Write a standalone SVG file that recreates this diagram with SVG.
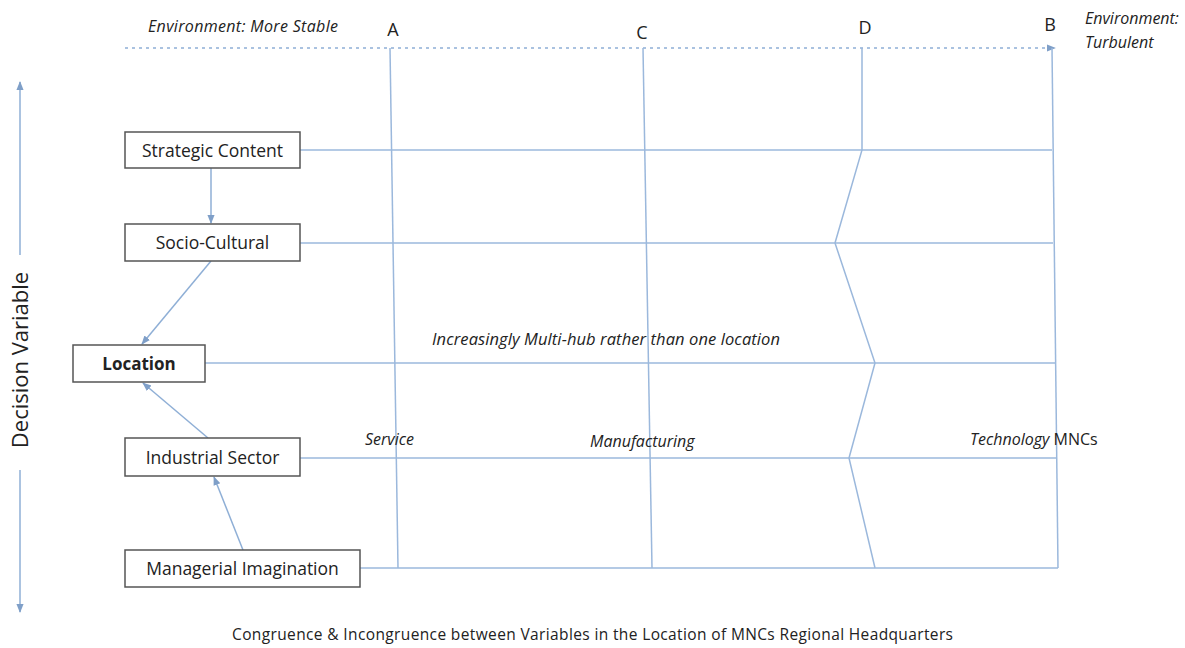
<svg xmlns="http://www.w3.org/2000/svg" width="1185" height="648" viewBox="0 0 1185 648">
<style>
.t{font-family:"Open Sans","Liberation Sans",sans-serif;fill:#222}
.i{font-style:italic}
.box{fill:#fff;stroke:#555;stroke-width:1.5}
.ln{stroke:#9bb8dc;stroke-width:1.5;fill:none}
.ar{stroke:#8fafd6;stroke-width:1.5;fill:none}
</style>
<defs>
<marker id="ah" viewBox="0 0 10 10" refX="9" refY="5" markerWidth="6" markerHeight="6" orient="auto"><path d="M0,1 L10,5 L0,9 z" fill="#7f9fc8"/></marker>
</defs>
<rect width="1185" height="648" fill="#fff"/>
<g id="connectors">
<line class="ar" x1="125" y1="48" x2="1055" y2="48" stroke-dasharray="3,4" marker-end="url(#ah)"/>
<line class="ln" x1="390" y1="48" x2="398" y2="568"/>
<line class="ln" x1="643" y1="48" x2="652" y2="568"/>
<polyline class="ln" points="862,48 862,150 835,243 875,363 849,458 875,568"/>
<line class="ln" x1="1052" y1="48" x2="1058" y2="568"/>
<line class="ln" x1="300" y1="150" x2="1052" y2="150"/>
<line class="ln" x1="300" y1="243" x2="1053" y2="243"/>
<line class="ln" x1="205" y1="363" x2="1055" y2="363"/>
<line class="ln" x1="300" y1="458" x2="1056" y2="458"/>
<line class="ln" x1="360" y1="568" x2="1058" y2="568"/>
<line class="ar" x1="211" y1="168" x2="211" y2="223" marker-end="url(#ah)"/>
<line class="ar" x1="211" y1="261" x2="142" y2="344" marker-end="url(#ah)"/>
<line class="ar" x1="208" y1="438" x2="143" y2="383" marker-end="url(#ah)"/>
<line class="ar" x1="243" y1="550" x2="214" y2="477" marker-end="url(#ah)"/>
<line class="ar" x1="20" y1="255" x2="20" y2="82" marker-end="url(#ah)"/>
<line class="ar" x1="20" y1="470" x2="20" y2="612" marker-end="url(#ah)"/>
</g>
<g id="strategic-content"><rect class="box" x="125" y="132" width="175" height="36"/><text class="t" x="212.5" y="157" font-size="17.5" text-anchor="middle">Strategic Content</text></g>
<g id="socio-cultural"><rect class="box" x="125" y="224" width="175" height="37"/><text class="t" x="212.5" y="249" font-size="17.5" text-anchor="middle">Socio-Cultural</text></g>
<g id="location"><rect class="box" x="73" y="345" width="132" height="37"/><text class="t" x="139" y="370" font-size="17" font-weight="bold" text-anchor="middle">Location</text></g>
<g id="industrial-sector"><rect class="box" x="125" y="438" width="175" height="38"/><text class="t" x="212.5" y="464" font-size="17.5" text-anchor="middle">Industrial Sector</text></g>
<g id="managerial-imagination"><rect class="box" x="125" y="550" width="235" height="37"/><text class="t" x="242.5" y="575" font-size="17.5" text-anchor="middle">Managerial Imagination</text></g>
<g id="labels">
<text class="t i" x="148" y="32" font-size="16" textLength="190">Environment: More Stable</text>
<text class="t" x="393" y="36" font-size="18" text-anchor="middle">A</text>
<text class="t" x="642" y="39" font-size="18" text-anchor="middle">C</text>
<text class="t" x="865" y="34" font-size="18" text-anchor="middle">D</text>
<text class="t" x="1050" y="31" font-size="18" text-anchor="middle">B</text>
<text class="t i" x="1085" y="24" font-size="16">Environment:</text>
<text class="t i" x="1085" y="48" font-size="16">Turbulent</text>
<text class="t i" x="432" y="345" font-size="16.5" textLength="348">Increasingly Multi-hub rather than one location</text>
<text class="t i" x="365" y="445" font-size="16">Service</text>
<text class="t i" x="590" y="447" font-size="16">Manufacturing</text>
<text class="t" x="970" y="445" font-size="16"><tspan class="i">Technology</tspan> MNCs</text>
<text class="t" x="28" y="360" font-size="22" text-anchor="middle" transform="rotate(-90 28 360)">Decision Variable</text>
<text class="t" x="232" y="640" font-size="15.5" textLength="721">Congruence &amp; Incongruence between Variables in the Location of MNCs Regional Headquarters</text>
</g>
</svg>
